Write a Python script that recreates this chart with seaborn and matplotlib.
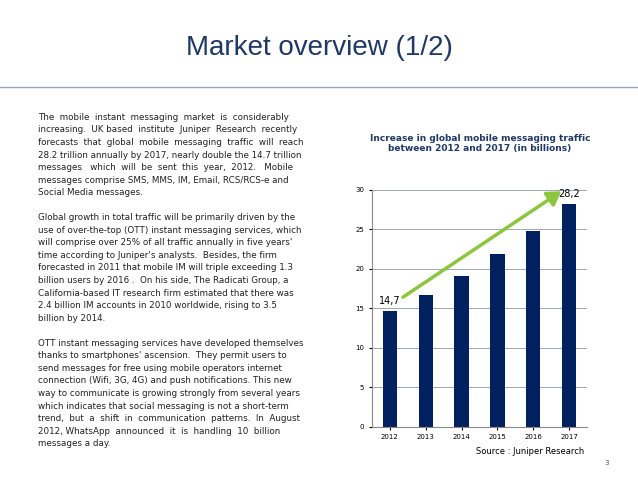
import matplotlib.pyplot as plt
import seaborn as sns
import pandas as pd

years = ["2012", "2013", "2014", "2015", "2016", "2017"]
traffic = [14.7, 16.7, 19.1, 21.8, 24.8, 28.2]

body = [
    "The  mobile  instant  messaging  market  is  considerably",
    "increasing.  UK based  institute  Juniper  Research  recently",
    "forecasts  that  global  mobile  messaging  traffic  will  reach",
    "28.2 trillion annually by 2017, nearly double the 14.7 trillion",
    "messages   which  will  be  sent  this  year,  2012.   Mobile",
    "messages comprise SMS, MMS, IM, Email, RCS/RCS-e and",
    "Social Media messages.",
    "",
    "Global growth in total traffic will be primarily driven by the",
    "use of over-the-top (OTT) instant messaging services, which",
    "will comprise over 25% of all traffic annually in five years'",
    "time according to Juniper's analysts.  Besides, the firm",
    "forecasted in 2011 that mobile IM will triple exceeding 1.3",
    "billion users by 2016 .  On his side, The Radicati Group, a",
    "California-based IT research firm estimated that there was",
    "2.4 billion IM accounts in 2010 worldwide, rising to 3.5",
    "billion by 2014.",
    "",
    "OTT instant messaging services have developed themselves",
    "thanks to smartphones' ascension.  They permit users to",
    "send messages for free using mobile operators internet",
    "connection (Wifi, 3G, 4G) and push notifications. This new",
    "way to communicate is growing strongly from several years",
    "which indicates that social messaging is not a short-term",
    "trend,  but  a  shift  in  communication  patterns.  In  August",
    "2012, WhatsApp  announced  it  is  handling  10  billion",
    "messages a day.",
]

df = pd.DataFrame({"year": years, "traffic": traffic})

fig = plt.figure(figsize=(6.38, 4.79), dpi=100)
navy = "#1F3864"

fig.text(0.5, 0.9, "Market overview (1/2)", ha="center", va="center",
         fontsize=20, color=navy, family="Liberation Sans")
fig.add_artist(plt.Line2D([0.0, 1.0], [0.818, 0.818], color="#8FA6BE", lw=1))

y = 0.755
for line in body:
    fig.text(0.06, y, line, fontsize=6.3, color="#222222", va="center")
    y -= 0.0262

ax = fig.add_axes([0.583, 0.109, 0.337, 0.495])
sns.barplot(data=df, x="year", y="traffic", color="#002060", width=0.4,
            saturation=1, ax=ax)
ax.set_ylim(0, 30)
ax.set_yticks(range(0, 31, 5))
ax.yaxis.grid(True, color="#A0A8B8", lw=0.7)
ax.set_axisbelow(True)
ax.set_xlabel("")
ax.set_ylabel("")
ax.tick_params(labelsize=5, length=2)
for s in ["top", "right"]:
    ax.spines[s].set_visible(False)
ax.spines["left"].set_color("#888888")
ax.spines["bottom"].set_color("#888888")

ax.text(0, traffic[0] + 0.6, "14,7", ha="center", va="bottom", fontsize=7)
ax.text(5, traffic[5] + 0.6, "28,2", ha="center", va="bottom", fontsize=7)
ax.annotate("", xy=(4.85, 30), xytext=(0.3, 16.2),
            arrowprops=dict(arrowstyle="-|>,head_length=0.8,head_width=0.5",
                            color="#8CC63F", lw=2.5))

fig.text(0.752, 0.7, "Increase in global mobile messaging traffic\nbetween 2012 and 2017 (in billions)",
         ha="center", va="center", fontsize=6.5, color=navy, fontweight="bold")
fig.text(0.915, 0.052, "Source : Juniper Research", ha="right", fontsize=6)
fig.text(0.955, 0.03, "3", ha="right", fontsize=5, color="#555555")

fig.savefig("out.png", dpi=100)
